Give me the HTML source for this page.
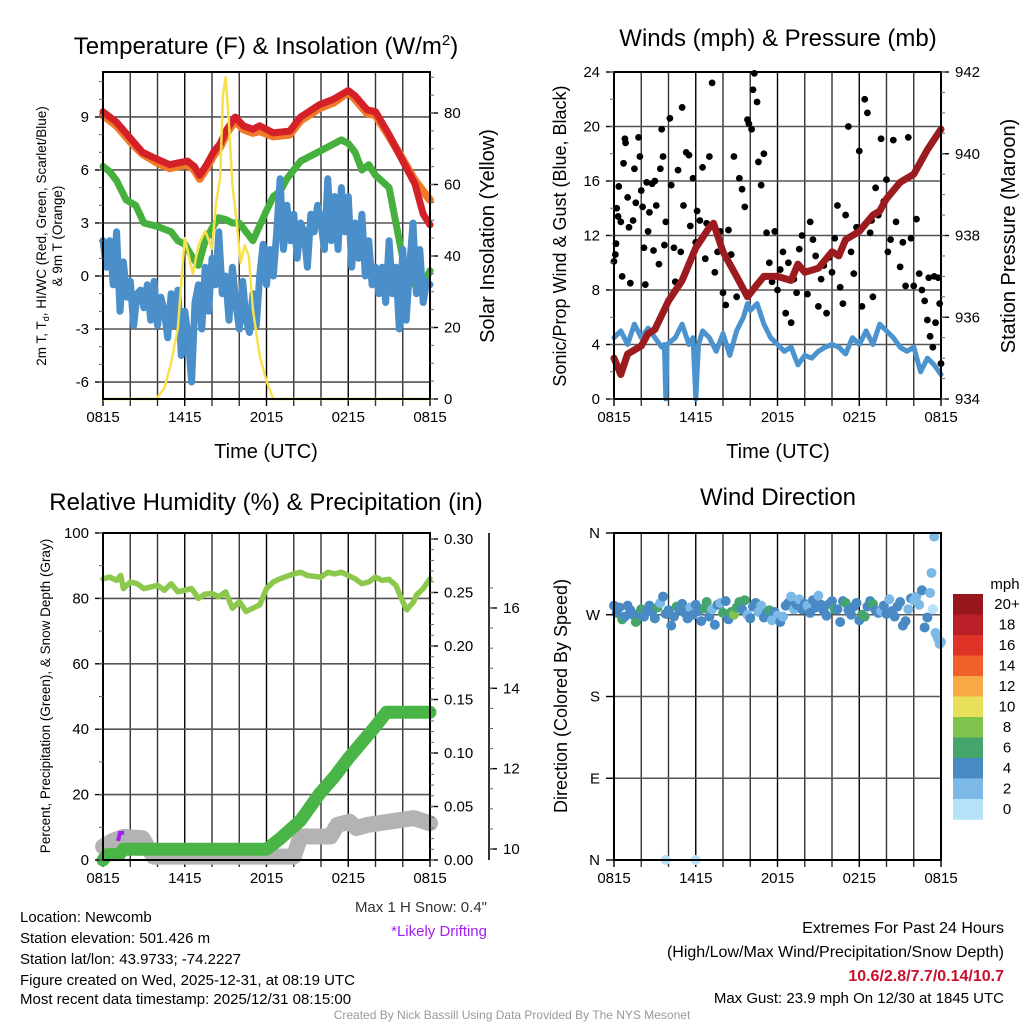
<!DOCTYPE html>
<html><head><meta charset="utf-8"><style>
html,body{margin:0;padding:0;background:#fff;}
svg{display:block;font-family:"Liberation Sans",sans-serif;}
</style></head><body>
<svg id="c" width="1024" height="1024" viewBox="0 0 1024 1024" xmlns="http://www.w3.org/2000/svg">
<g id="grids"></g><g id="series"></g><g id="axes"></g>
<text x="266" y="54" font-size="24" text-anchor="middle">Temperature (F) &amp; Insolation (W/m<tspan dy="-9" font-size="15">2</tspan><tspan dy="9">)</tspan></text>
<text x="778" y="46" font-size="24" text-anchor="middle">Winds (mph) &amp; Pressure (mb)</text>
<text x="266" y="510" font-size="24" text-anchor="middle">Relative Humidity (%) &amp; Precipitation (in)</text>
<text x="778" y="505" font-size="24" text-anchor="middle">Wind Direction</text>
<text x="266" y="458" font-size="20" text-anchor="middle">Time (UTC)</text>
<text x="778" y="458" font-size="20" text-anchor="middle">Time (UTC)</text>
<text transform="translate(46,236) rotate(-90)" font-size="13.5" text-anchor="middle">2m T, T<tspan dy="3" font-size="9">d</tspan><tspan dy="-3">, HI/WC (Red, Green, Scarlet/Blue)</tspan></text>
<text transform="translate(62,236) rotate(-90)" font-size="13.5" text-anchor="middle">&amp; 9m T (Orange)</text>
<text transform="translate(494,236) rotate(-90)" font-size="20" text-anchor="middle">Solar Insolation (Yellow)</text>
<text transform="translate(566,236) rotate(-90)" font-size="18" text-anchor="middle">Sonic/Prop Wind &amp; Gust (Blue, Black)</text>
<text transform="translate(1015,236) rotate(-90)" font-size="20" text-anchor="middle">Station Pressure (Maroon)</text>
<text transform="translate(50,696) rotate(-90)" font-size="13.5" text-anchor="middle">Percent, Precipitation (Green), &amp; Snow Depth (Gray)</text>
<text transform="translate(567,696) rotate(-90)" font-size="18" text-anchor="middle">Direction (Colored By Speed)</text>
<g font-size="15">
<text x="20" y="922">Location: Newcomb</text>
<text x="20" y="943">Station elevation: 501.426 m</text>
<text x="20" y="964">Station lat/lon: 43.9733; -74.2227</text>
<text x="20" y="985">Figure created on Wed, 2025-12-31, at 08:19 UTC</text>
<text x="20" y="1004">Most recent data timestamp: 2025/12/31 08:15:00</text>
</g>
<text x="487" y="912" font-size="15" text-anchor="end" fill="#333">Max 1 H Snow: 0.4"</text>
<text x="487" y="936" font-size="15" text-anchor="end" fill="#a020f0">*Likely Drifting</text>
<g font-size="16" text-anchor="end">
<text x="1004" y="933">Extremes For Past 24 Hours</text>
<text x="1004" y="957">(High/Low/Max Wind/Precipitation/Snow Depth)</text>
<text x="1004" y="981" fill="#c8102e" font-weight="bold">10.6/2.8/7.7/0.14/10.7</text>
<text x="1004" y="1003" font-size="15">Max Gust: 23.9 mph On 12/30 at 1845 UTC</text>
</g>
<text x="512" y="1019" font-size="12" text-anchor="middle" fill="#999">Created By Nick Bassill Using Data Provided By The NYS Mesonet</text>
</svg>
<script>
// ---- data (hours after 0815 UTC) ----
const xTickLabels = ["0815","1415","2015","0215","0815"];
const redT = [0,1,2,2.9,4,4.9,5.5,6.2,6.7,7.1,7.6,8.1,8.6,9.1,9.7,10.3,11,11.5,12.5,13.7,14.5,15.9,16.9,18,18.5,19.4,20,21,22,22.9,23.5,24];
const redV = [9.3,8.7,7.8,7.0,6.6,6.3,6.4,6.5,6.2,5.7,6.3,7.0,7.5,8.3,9.0,8.5,8.3,8.5,8.1,8.2,9.0,9.7,10.0,10.5,10.2,9.4,9.3,8.0,6.5,5.2,3.5,2.9];
const orgV = [9.1,8.5,7.6,6.9,6.4,6.1,6.2,6.3,6.0,5.5,6.1,6.8,7.3,8.1,8.8,8.3,8.1,8.2,7.9,8.0,8.8,9.5,9.8,10.4,10.0,9.2,9.1,7.9,6.6,5.4,4.8,4.3];
const grnT = [0,0.5,1,1.7,2.4,3,4,5,5.5,6,6.6,7,7.5,8,8.5,9,9.5,10,11,12,12.5,13,13.5,14.5,15.5,16.5,17.5,18,18.5,19,19.5,20,21,21.5,22,22.5,23,23.5,24];
const grnV = [6.2,5.9,5.4,4.3,4.0,3.0,2.8,2.5,2.0,1.8,1.0,0.6,2.0,2.7,3.3,3.2,3.0,3.0,2.0,3.7,4.5,4.8,5.5,6.5,6.9,7.3,7.7,7.5,7.0,6.0,6.3,5.7,5.0,3.0,1.0,-0.5,-0.3,-0.5,0.3];
const bluV = [2,0.5,2,-0.5,2.5,-2,0.8,-1.2,-0.3,-2.8,-1,-0.8,-1.8,-0.5,-2.5,-0.3,-2.8,-1.2,-2,-3.5,-1,-2.8,-0.8,-4.5,-2,-3.5,-6,-1.5,-0.5,-3,0.5,-2,1,-0.5,2.5,-1,0,-2.5,0.5,-1.5,-3,-0.3,-2.5,-3.2,-1,-2.8,0,1.8,-0.5,1.5,0,2.5,5.5,1.5,4,2,3.5,1,3,2.5,0.5,3.5,2.5,4,3,1.5,5.5,2,4.5,1.5,5,2.5,4.5,0.5,3,1,3.5,0,2,-0.5,0.5,-1,0.5,-1.5,2,-1,0.5,-3,1.5,-2.5,0.5,3,-1,1.5,-1.5,-0.3,-0.5];
const solT = [0,3.9,4.5,5,5.5,5.8,6,6.3,6.6,7,7.5,8,8.3,8.6,8.8,9,9.2,9.5,9.8,10.1,10.4,10.7,11,11.5,12,12.5,24];
const solV = [0,0,3,10,20,35,45,40,35,43,47,42,55,62,85,90,80,60,50,38,43,40,25,12,5,0,0];
const presT = [0,0.5,1,2,2.5,3,4,5,6,7,7.3,8,9,9.8,10.5,11,12,13,13.5,14,15,16,16.5,17,18,19,19.5,20,21,21.5,22,23,24];
const presV = [935.0,934.6,935.1,935.3,935.6,935.7,936.4,936.9,937.7,938.2,938.3,937.6,937.0,936.5,936.8,937.0,937.0,936.9,937.3,937.1,937.2,937.6,937.5,937.9,938.1,938.5,938.6,938.9,939.3,939.4,939.5,940.1,940.6];
const windT = [0,0.5,1,1.5,2,2.5,3,3.5,3.7,3.8,3.9,4.5,5,5.5,5.8,6.0,6.2,6.5,7,7.5,8,8.5,9,9.5,9.8,10,10.5,11,11.5,12,12.5,13,13.5,14,14.5,15,15.5,16,16.5,17,17.5,18,18.5,19,19.5,20,20.5,21,21.5,22,22.5,23,23.5,24];
const windV = [4.5,5.0,4.0,5.5,4.5,5.2,4.5,3.8,4.0,0,4.0,4.5,5.5,4.0,4.5,0,4.0,5.0,4.5,3.5,4.8,3.2,5.0,6.0,7.0,6.5,7.0,5.5,4.5,4.0,3.5,3.8,2.5,3.2,3.0,3.5,3.8,4.0,3.8,3.3,4.5,4.0,5.0,4.0,5.5,5.0,4.5,3.8,3.5,3.8,2.0,3.0,2.5,1.8];
const gustT = [0,0.1,0.15,0.2,0.3,0.35,0.5,0.6,0.7,0.8,0.85,1,1.1,1.2,1.4,1.5,1.6,1.8,1.9,2,2.1,2.2,2.3,2.4,2.5,2.6,2.8,2.9,3,3.1,3.3,3.4,3.5,3.6,3.7,3.8,4.1,4.2,4.4,4.5,4.7,4.9,5,5.1,5.3,5.5,5.6,5.8,6,6.1,6.3,6.5,6.7,6.8,7,7.2,7.4,7.6,7.8,8,8.2,8.4,8.6,8.8,9,9.2,9.4,9.6,9.8,9.9,10.1,10.2,10.3,10.5,10.6,10.8,11,11.2,11.4,11.6,11.8,12,12.2,12.4,12.6,12.8,13,13.2,13.4,13.6,13.8,14,14.2,14.4,14.6,14.8,15,15.2,15.4,15.6,15.8,16,16.2,16.4,16.6,16.8,17,17.2,17.4,17.6,17.8,18,18.2,18.4,18.6,18.8,18.9,19,19.2,19.4,19.6,19.8,20,20.1,20.3,20.5,20.7,21,21.2,21.4,21.6,21.8,22,22.2,22.4,22.6,22.8,23,23.2,23.4,23.6,23.8,24,23.9,23.5,23.1];
const gustV = [10.1,10.6,11.4,14,13.4,15.6,13,9,17.3,19.1,18.8,14.8,12.6,8.5,13.1,16.9,14.4,19.2,17.8,15.3,14.1,11.1,8.4,15.9,12.3,13.7,15.8,10.9,16,14.2,9.9,16.9,19.8,17.8,11.3,13,20.6,15.7,11.1,8.6,16.8,10.8,21.4,14.2,18.1,17.9,12.7,16.2,11.5,13.8,13.1,17,10.3,12.9,17.8,23.2,9.3,10.8,12.3,7.8,6.9,12.4,10.6,17.8,7.5,16.2,15.4,14.1,20.5,20.2,19.8,22.7,23.9,21.8,17.4,15.7,18,12.2,10,8.6,12.3,8,9.5,10.8,6.3,10,5.6,8.8,7.8,11,12,9.4,7.7,13,11.7,10.5,6.8,8.8,9.8,6.3,10.4,9.3,11.8,14.2,8.2,7,13.5,20,10.8,9.2,12.6,18.2,6.8,22,21,12.2,13.1,7.5,15.5,13.5,19.1,14.5,16.1,10.8,11.7,19,13,9.7,11.5,8.3,19.2,11.8,8.3,13.2,9.2,8,7.2,5.8,4.6,3.8,5.6,8.9,2.6,7,9,8.9];
const rhT = [0,0.5,1,1.3,1.5,2,2.5,3,3.5,4,4.5,5,5.5,6,6.5,7,7.5,8,8.5,9,9.5,10,10.5,11,11.5,12,12.5,13,14,14.5,15,16,16.5,17,17.5,18,18.5,19,19.5,20,20.5,21,21.5,22,22.3,22.8,23,23.5,24];
const rhV = [86,86.5,85.5,87,83,85,84.5,83,83.5,84,82.5,84.5,82,82.5,83,80,81.3,81.5,80.5,82,77,79,76,77,78,83,85,86,87.5,88,87,86.5,88,87.5,88,87,86,84.5,85,86.5,85.5,85.8,84,79,76.5,79,81,83,86];
const precT = [0,0.3,1.2,1.5,12,12.5,13,14.5,15.9,17,18,19,20,20.8,24];
const precV = [0,0.005,0.005,0.01,0.01,0.015,0.02,0.037,0.062,0.078,0.095,0.11,0.125,0.138,0.138];
const snowT = [0,0.7,1.5,2.9,3.7,12,12.5,14,14.5,16.7,17.2,18.1,18.6,19.4,22.8,24];
const snowV = [10.06,10.2,10.3,10.27,9.81,9.81,9.81,9.81,10.31,10.31,10.6,10.68,10.52,10.6,10.77,10.64];
const dirT = [0,0.2,0.4,0.6,0.8,1,1.2,1.4,1.6,1.8,2,2.2,2.4,2.6,2.8,3,3.2,3.4,3.6,3.8,3.8,4,4.2,4.4,4.6,4.8,5,5.2,5.4,5.6,5.8,6,6,6.2,6.4,6.6,6.8,7,7.2,7.4,7.6,7.8,8,8.2,8.4,8.6,8.8,9,9.2,9.4,9.6,9.8,10,10.2,10.4,10.6,10.8,11,11.2,11.4,11.6,11.8,12,12.2,12.4,12.6,12.8,13,13.2,13.4,13.6,13.8,14,14.2,14.4,14.6,14.8,15,15.2,15.4,15.6,15.8,16,16.2,16.4,16.6,16.8,17,17.2,17.4,17.6,17.8,18,18.2,18.4,18.6,18.8,19,19.2,19.4,19.6,19.8,20,20.2,20.4,20.6,20.8,21,21.2,21.4,21.6,21.8,22,22.2,22.4,22.6,22.8,23,23.2,23.3,23.4,23.5,23.6,23.7,23.8,23.9,24];
const dirV = [280,272,278,265,268,280,275,270,262,271,276,268,274,280,273,266,278,283,290,271,0,275,258,268,279,276,282,272,266,278,270,281,0,274,263,277,284,268,276,259,281,283,272,285,265,273,270,278,284,276,286,270,266,279,283,273,280,267,272,275,264,273,269,262,268,280,283,290,276,281,287,276,282,280,272,286,278,291,281,274,269,282,285,276,276,262,285,283,275,270,279,283,264,270,268,279,285,282,275,272,274,280,271,287,274,268,279,284,258,263,276,288,286,290,281,297,256,267,294,316,276,356,250,247,243,238,240,233,225,260];
const dirS = [5,4,5,7,5,5,4,5,7,5,7,5,5,5,4,5,7,3,5,4,1,5,5,5,7,5,5,4,5,3,5,4,1,5,5,7,7,5,3,5,5,3,7,4,5,7,8,7,7,5,7,3,5,5,5,3,3,5,5,7,3,5,3,5,3,5,5,3,3,5,3,4,5,3,5,4,5,3,5,5,5,5,5,7,5,5,5,7,5,5,5,5,5,7,7,5,5,7,5,5,3,5,5,3,4,5,5,5,5,5,3,5,3,3,3,4,5,4,3,3,1,3,3,3,3,3,3,3,3,1];
const legendLabels = ["20+","18","16","14","12","10","8","6","4","2","0"];
const legendColors = ["#96161b","#bb1e26","#df3328","#f0602b","#f8a946","#e8e05a","#7fc24c","#45a56c","#4a8ac4","#7db9e6","#b6e3f7"];

const NS="http://www.w3.org/2000/svg";
const G=document.getElementById('grids'),S=document.getElementById('series'),A=document.getElementById('axes');
function mk(tag,parent,attrs){const e=document.createElementNS(NS,tag);for(const k in attrs)e.setAttribute(k,attrs[k]);parent.appendChild(e);return e;}
const P1={x0:103,x1:430,y0:72,y1:399},P2={x0:614,x1:941,y0:72,y1:399},P3={x0:103,x1:430,y0:533,y1:860},P4={x0:614,x1:941,y0:533,y1:860};
const xs=(P,h)=>P.x0+h*(P.x1-P.x0)/24;
const y1L=v=>276-v*17.67, y1R=v=>399-v*3.575;
const y2L=v=>399-v*13.625, y2R=p=>399-(p-934)*40.875;
const y3L=v=>860-v*3.27, y3P=v=>860-v*1070, y3S=v=>849-(v-10)*40.17;
const y4=d=>860-d*327/360;

function frame(P,name){
  for(let i=0;i<=12;i++){const x=xs(P,i*2);
    const l=mk('line',G,{x1:x,x2:x,y1:P.y0-(i%3==0?0:0),y2:P.y1+7,stroke:i%3==0?'#000':'#333','stroke-width':1.4});
    
    
  }
  for(let i=0;i<5;i++){const t=mk('text',A,{x:xs(P,i*6),y:P.y1+23,'font-size':15,'text-anchor':'middle'});t.textContent=xTickLabels[i];
    
    }
  const b=mk('rect',A,{x:P.x0,y:P.y0,width:P.x1-P.x0,height:P.y1-P.y0,fill:'none',stroke:'#000','stroke-width':2});
  
  
}
function yaxis(P,side,vals,fy,labels,name,grid,minors,fs){
  const x=side=='L'?P.x0:P.x1,d=side=='L'?-1:1;
  vals.forEach((v,i)=>{const y=fy(v);
    if(grid){const g=mk('line',G,{x1:P.x0,x2:P.x1,y1:y,y2:y,stroke:'#555','stroke-width':1.6});
      
      }
    mk('line',A,{x1:x,x2:x+d*8,y1:y,y2:y,stroke:'#000','stroke-width':1.4});
    const t=mk('text',A,{x:x+d*14,y:y+5,'font-size':fs||15,'text-anchor':side=='L'?'end':'start'});t.textContent=labels[i];
    
    });
  (minors||[]).forEach(v=>{const y=fy(v);mk('line',A,{x1:x,x2:x+d*4,y1:y,y2:y,stroke:'#666','stroke-width':1});});
}
function path(P,T,V,fy,color,w,name,op){
  let d='';T.forEach((t,i)=>{d+=(i?'L':'M')+xs(P,t).toFixed(1)+','+fy(V[i]).toFixed(1);});
  const p=mk('path',S,{d:d,fill:'none',stroke:color,'stroke-width':w,'stroke-linejoin':'round','stroke-linecap':'round',opacity:op||1});
  
  
  return p;
}
const rng=(a,b,s)=>{const r=[];for(let v=a;v<=b+1e-9;v+=s)r.push(+v.toFixed(3));return r;};

// Panel 1
frame(P1,'temp');
yaxis(P1,'L',[-6,-3,0,3,6,9],y1L,['-6','-3','0','3','6','9'],'temp-y',true,rng(-6,11,1));
yaxis(P1,'R',[0,20,40,60,80],y1R,['0','20','40','60','80'],'insolation-y',false,rng(0,90,5));
const bluT=bluV.map((v,i)=>i*0.25);
path(P1,grnT,grnV,y1L,'#45b03e',7,'dewpoint-line');
path(P1,bluT,bluV,y1L,'#4a8fc9',7,'windchill-line');
path(P1,redT,orgV,y1L,'#f07a2a',8,'9m-temp-line');
path(P1,redT,redV,y1L,'#d42027',7,'2m-temp-line');
path(P1,solT,solV,y1R,'#f7e04b',2.5,'insolation-line');
// Panel 2
frame(P2,'winds');
yaxis(P2,'L',[0,4,8,12,16,20,24],y2L,['0','4','8','12','16','20','24'],'wind-y',true,rng(0,24,2));
yaxis(P2,'R',[934,936,938,940,942],y2R,['934','936','938','940','942'],'pressure-y',false,rng(934,942,0.5));
path(P2,windT,windV,y2L,'#4a93cf',5,'sonic-wind-line');
gustT.forEach((t,i)=>{const c=mk('circle',S,{cx:xs(P2,t),cy:y2L(gustV[i]),r:3.4,fill:'#000'});
  
  });
path(P2,presT,presV,y2R,'#9b1b1e',7,'pressure-line');
// Panel 3
frame(P3,'humidity');
yaxis(P3,'L',[0,20,40,60,80,100],y3L,['0','20','40','60','80','100'],'humidity-y',true,rng(0,100,10));
yaxis(P3,'R',[0,0.05,0.1,0.15,0.2,0.25,0.3],y3P,['0.00','0.05','0.10','0.15','0.20','0.25','0.30'],'precip-y',false,rng(0,0.3,0.01));
const sa=mk('line',A,{x1:489,x2:489,y1:533,y2:860,stroke:'#000','stroke-width':1.6});


[10,12,14,16].forEach(v=>{const y=y3S(v);mk('line',A,{x1:489,x2:497,y1:y,y2:y,stroke:'#000','stroke-width':1.4});
  const t=mk('text',A,{x:503,y:y+5,'font-size':15});t.textContent=String(v);
  
  });
rng(9.5,16.5,0.5).forEach(v=>{const y=y3S(v);if(y>533&&y<860)mk('line',A,{x1:489,x2:493,y1:y,y2:y,stroke:'#666','stroke-width':1});});
path(P3,snowT,snowV,y3S,'#b3b3b3',16,'snow-depth-line');
const pu=mk('path',S,{d:'M'+xs(P3,1.1)+','+(y3S(10.2))+'L'+xs(P3,1.25)+','+y3S(10.4)+'L'+xs(P3,1.55)+','+y3S(10.4),fill:'none',stroke:'#a020f0','stroke-width':4});


path(P3,precT,precV,y3P,'#4ab547',13,'precip-line');
path(P3,rhT,rhV,y3L,'#8cc84b',5.5,'humidity-line');
// Panel 4
frame(P4,'direction');
yaxis(P4,'L',[0,90,180,270,360],y4,['N','E','S','W','N'],'direction-y',true,[]);
const spdColor=s=>legendColors[10-Math.min(10,Math.floor(s/2))];
dirT.forEach((t,i)=>{const c=mk('circle',S,{cx:xs(P4,t),cy:y4(dirV[i]),r:5,fill:spdColor(dirS[i])});
  
  });
// legend
const mt=mk('text',A,{x:1005,y:589,'font-size':15,'text-anchor':'middle'});mt.textContent='mph';


legendLabels.forEach((l,i)=>{const y=594+i*20.5;
  const r=mk('rect',A,{x:953,y:y,width:30,height:20.8,fill:legendColors[i]});
  
  
  const t=mk('text',A,{x:1007,y:y+15,'font-size':15,'text-anchor':'middle'});t.textContent=l;
  
  });
</script>
</body></html>
